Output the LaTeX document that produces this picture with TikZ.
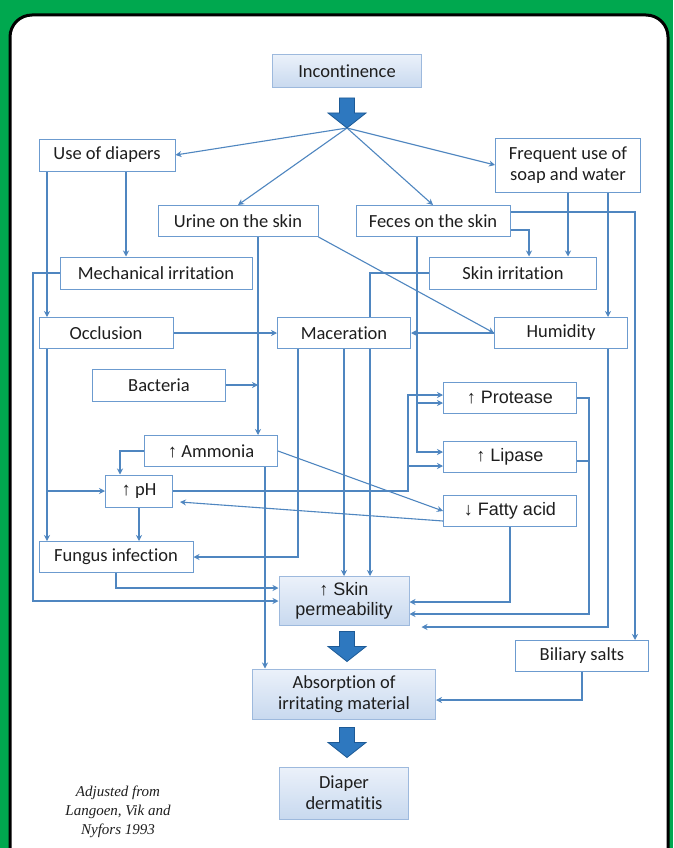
\documentclass[tikz,border=0pt]{standalone}
\usepackage{fontspec}
\setmainfont{Carlito}[Ligatures={NoCommon}]
\newfontfamily\arialfont{Liberation Sans}
\newfontfamily\citefont{Liberation Serif}
\definecolor{dgGreen}{HTML}{00A84F}
\definecolor{dgLine}{HTML}{4F86C0}
\definecolor{dgEdge}{HTML}{6C9BCF}
\definecolor{dgKeyEdge}{HTML}{9DB9DD}
\definecolor{dgInk}{HTML}{1E1E1E}
\definecolor{dgTop}{HTML}{EBF1FA}
\definecolor{dgBot}{HTML}{C8D9EF}
\definecolor{dgArrow}{HTML}{2E78BF}
\definecolor{dgArrowDark}{HTML}{1D5A96}
\usetikzlibrary{arrows.meta,calc}
\pgfdeclarelayer{panel}
\pgfdeclarelayer{wires}
\pgfsetlayers{panel,wires,main}
\newcommand{\arrUp}{{\arialfont ↑}}
\newcommand{\arrDown}{{\arialfont ↓}}
\newcommand{\fatarrow}[1]{%
  \path[bigarrow] ($(#1)+(-7.5,-30)$) -- ++(15,0) -- ++(0,15) -- ++(11.5,0)
    -- (#1) -- ++(-19,-15) -- ++(11.5,0) -- cycle;}

\begin{document}
\begin{tikzpicture}[
  x=1pt,y=-1pt,
  box/.style={draw=dgEdge,line width=1pt,fill=white,text=dgInk,inner sep=0pt,align=center,
              font=\fontsize{18.5}{21}\selectfont},
  abox/.style={box,font=\arialfont\fontsize{18}{21}\selectfont},
  keybox/.style={box,draw=dgKeyEdge,top color=dgTop,bottom color=dgBot},
  bigarrow/.style={fill=dgArrow,draw=dgArrowDark,line width=0.8pt},
  wire/.style={dgLine,line width=1.1pt},
  cite/.style={text=dgInk,align=center,font=\citefont\itshape\fontsize{15}{19}\selectfont},
  >={Stealth[length=6pt,width=6pt]}
]
\useasboundingbox (0,0) rectangle (673,848);
\begin{pgfonlayer}{panel}
\fill[dgGreen] (0,0) rectangle (673,848);
\draw[line width=3pt,fill=white,rounded corners=22pt] (10,15) rectangle (668,890);
\end{pgfonlayer}

\node[keybox,minimum width=149pt,minimum height=33pt] (inc) at (347,71) {Incontinence};
\node[box,minimum width=136pt,minimum height=32pt] (diap) at (107,155) {Use of diapers};
\node[box,minimum width=145pt,minimum height=54pt] (soap) at (568,165) {Frequent use of\\soap and water};
\node[box,minimum width=160pt,minimum height=31pt] (urine) at (238,221) {Urine on the skin};
\node[box,minimum width=154pt,minimum height=31pt] (feces) at (433,221) {Feces on the skin};
\node[box,minimum width=192pt,minimum height=32pt] (mech) at (156,273) {Mechanical irritation};
\node[box,minimum width=167pt,minimum height=32pt] (skinirr) at (513,273) {Skin irritation};
\node[box,minimum width=134pt,minimum height=31pt] (occl) at (106,333) {Occlusion};
\node[box,minimum width=133pt,minimum height=31pt] (macer) at (344,333) {Maceration};
\node[box,minimum width=133pt,minimum height=31pt] (humid) at (561,333) {Humidity};
\node[box,minimum width=133pt,minimum height=32pt] (bact) at (159,385) {Bacteria};
\node[abox,minimum width=133pt,minimum height=31pt] (prot) at (510,398) {\arrUp{} Protease};
\node[box,minimum width=133pt,minimum height=31pt] (ammo) at (211,451) {\arrUp{} Ammonia};
\node[abox,minimum width=133pt,minimum height=31pt] (lip) at (510,457) {\arrUp{} Lipase};
\node[box,minimum width=67pt,minimum height=32pt] (ph) at (139,491) {\arrUp{} pH};
\node[abox,minimum width=133pt,minimum height=31pt] (fatty) at (510,511) {\arrDown{} Fatty acid};
\node[box,minimum width=154pt,minimum height=31pt] (fung) at (116,557) {Fungus infection};
\node[keybox,font=\arialfont\fontsize{18}{20}\selectfont,minimum width=130pt,minimum height=49pt] (perm) at (344,601) {\arrUp{} Skin\\permeability};
\node[box,minimum width=133pt,minimum height=31pt] (bil) at (582,656) {Biliary salts};
\node[keybox,minimum width=183pt,minimum height=50pt] (absorb) at (344,694) {Absorption of\\irritating material};
\node[keybox,minimum width=129pt,minimum height=52pt] (derm) at (344,793) {Diaper\\dermatitis};
\node[cite] (src) at (118,812) {Adjusted from\\Langoen, Vik and\\Nyfors 1993};

\coordinate (fan) at (347,128);
\fatarrow{fan}
\coordinate (tipA) at ($(absorb.north)+(3,-7)$);
\fatarrow{tipA}
\coordinate (tipB) at ($(derm.north)+(3,-9)$);
\fatarrow{tipB}

\begin{pgfonlayer}{wires}
\begin{scope}[wire]
\draw[->] (fan) -- (diap.east);
\draw[->] (fan) -- (urine.north);
\draw[->] (fan) -- (feces.north);
\draw[->] (fan) -- (soap.west);

\draw[->] (diap.south -| 47,0) -- (occl.north -| 47,0);
\draw[->] (diap.south -| 126,0) -- (mech.north -| 126,0);
\draw[->] (mech.west) -| (33,601) -- (perm.west |- 0,601);

\draw[->] (occl.east) -- (macer.west);
\draw[->] (occl.south -| 47,0) -- (fung.north -| 47,0);
\draw[->] (47,0 |- ph.west) -- (ph.west);
\draw[->] (bact.east) -- (bact.east -| 258,0);

\draw[->] (urine.south -| 258,0) -- (ammo.north -| 258,0);
\draw[->] (urine.south east) -- (humid.west);

\draw[->] (feces.south -| 417,0) |- (prot.west |- 0,403);
\draw[->] (417,403) |- (lip.west |- 0,452);
\draw[->] (feces.east |- 0,212) -| (bil.north -| 635,0);
\draw[->] (feces.east |- 0,230) -| (skinirr.north -| 529,0);

\draw[->] (soap.south -| 568,0) -- (skinirr.north -| 568,0);
\draw[->] (soap.south -| 608,0) -- (humid.north -| 608,0);
\draw[->] (skinirr.west) -| (perm.north -| 370,0);

\draw[->] (macer.south -| 298,0) |- (fung.east);
\draw[->] (macer.south -| 344,0) -- (perm.north -| 344,0);
\draw[->] (humid.west) -- (macer.east);
\draw[->] (humid.south -| 608,0) |- ($(perm.south east)+(12,1)$);

\draw[->] (prot.east) -| (589,614) -- (perm.east |- 0,614);
\draw (lip.east |- 0,461) -- (589,461);

\draw[->] (ammo.west) -| (ph.north -| 120,0);
\draw[->] (ammo.east) -- (fatty.west);
\draw[->] (ammo.south -| 265,0) -- (absorb.north -| 265,0);

\draw[->] (ph.east) -| (408,395) -- (prot.west |- 0,395);
\draw[->] (408,466) -- (lip.west |- 0,466);
\draw[->] (ph.south) -- (fung.north -| ph.south);

\draw[->] (fatty.west |- 0,521) -- ($(ph.east)+(7,11)$);
\draw[->] (fatty.south) |- (perm.east |- 0,602);
\draw[->] (fung.south -| 116,0) |- (perm.west |- 0,588);
\draw[->] (bil.south) |- (absorb.east |- 0,700);
\end{scope}
\end{pgfonlayer}
\end{tikzpicture}
\end{document}
